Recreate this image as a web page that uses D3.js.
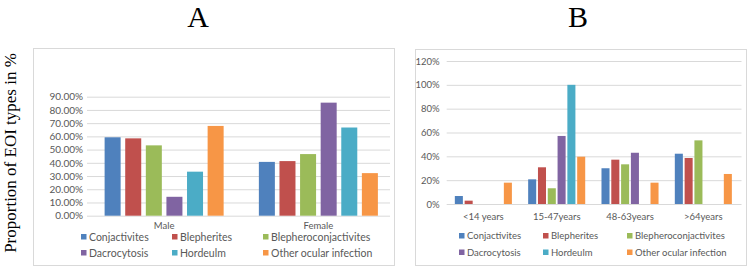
<!DOCTYPE html>
<html>
<head>
<meta charset="utf-8">
<script src="https://cdn.jsdelivr.net/npm/d3@7"></script>
<style>
  body { margin: 0; background: #fff; }
  svg { display: block; }
  .tick text, .cat, .leg { font-family: Lato, "Open Sans", sans-serif; fill: #595959; }
</style>
</head>
<body>
<svg id="chart" width="750" height="266"></svg>
<script>
// series names and colours (Excel 2010 palette)
var seriesNames = ["Conjactivites", "Blepherites", "Blepheroconjactivites",
                   "Dacrocytosis", "Hordeulm", "Other ocular infection"];
var seriesColors = ["#4f81bd", "#c0504d", "#9bbb59", "#8064a2", "#4bacc6", "#f79646"];

// panel A: by sex
var sexCats = ["Male", "Female"];
var sexValues = [
  [59.3, 40.7],   // Conjactivites
  [58.5, 41.3],   // Blepherites
  [53.2, 46.6],   // Blepheroconjactivites
  [14.3, 85.5],   // Dacrocytosis
  [33.3, 66.7],   // Hordeulm
  [67.9, 32.2]    // Other ocular infection
];
var sexTicks = [0, 10, 20, 30, 40, 50, 60, 70, 80, 90];

// panel B: by age group
var ageCats = ["<14 years", "15-47years", "48-63years", ">64years"];
var ageValues = [
  [6.7, 20.7, 30.0, 42.2],
  [2.8, 30.8, 37.2, 38.6],
  [0, 13.2, 33.3, 53.4],
  [0, 57.1, 43.0, 0],
  [0, 100, 0, 0],
  [17.9, 39.7, 17.9, 25.2]
];
var ageTicks = [0, 20, 40, 60, 80, 100, 120];

var svg = d3.select("#chart");

function panel(opt) {
  var g = svg.append("g");

  // outer frame
  g.append("rect")
    .attr("x", opt.box[0] + 0.5).attr("y", opt.box[1] + 0.5)
    .attr("width", opt.box[2] - opt.box[0]).attr("height", opt.box[3] - opt.box[1])
    .attr("fill", "#fff").attr("stroke", "#d9d9d9");

  // big panel letter
  g.append("text")
    .attr("x", opt.titleX).attr("y", 27)
    .attr("text-anchor", "middle")
    .style("font-family", "'Liberation Serif', 'Times New Roman', serif")
    .style("font-size", "30px")
    .text(opt.title);

  var x0 = d3.scaleBand().domain(opt.cats).range(opt.xRange);
  var x1 = d3.scaleBand().domain(d3.range(seriesNames.length))
    .range([0, x0.bandwidth()]).paddingInner(opt.inner).paddingOuter(opt.outer);
  var y = d3.scaleLinear().domain([0, opt.ticks[opt.ticks.length - 1]]).range(opt.yRange);

  // gridlines and tick labels
  var yAxis = d3.axisLeft(y).tickValues(opt.ticks)
    .tickSize(-(opt.gridEnd - opt.xRange[0]))
    .tickPadding(opt.pad)
    .tickFormat(opt.fmt);
  var ax = g.append("g")
    .attr("transform", "translate(" + opt.xRange[0] + ",0)")
    .call(yAxis);
  ax.select(".domain").remove();
  ax.selectAll(".tick line").attr("stroke", "#d9d9d9");
  ax.selectAll(".tick text").style("font-size", opt.tickSize + "px");

  // bars
  seriesNames.forEach(function (name, s) {
    g.selectAll(null)
      .data(opt.values[s])
      .enter().append("rect")
      .attr("x", function (d, i) { return x0(opt.cats[i]) + x1(s); })
      .attr("y", function (d) { return y(d); })
      .attr("width", x1.bandwidth())
      .attr("height", function (d) { return y(0) - y(d); })
      .attr("fill", seriesColors[s]);
  });

  // category labels
  g.selectAll(null)
    .data(opt.cats)
    .enter().append("text")
    .attr("class", "cat")
    .attr("x", function (d) { return x0(d) + x0.bandwidth() / 2; })
    .attr("y", opt.catY)
    .attr("text-anchor", "middle")
    .style("font-size", opt.catSize + "px")
    .text(function (d) { return d; });

  // legend, 3 per row
  seriesNames.forEach(function (name, s) {
    var lx = opt.legX[s % 3], ly = opt.legY[Math.floor(s / 3)];
    g.append("rect")
      .attr("x", lx).attr("y", ly - 3)
      .attr("width", 5.5).attr("height", 5.5)
      .attr("fill", seriesColors[s]);
    g.append("text")
      .attr("class", "leg")
      .attr("x", lx + 8).attr("y", ly)
      .attr("dy", "0.35em")
      .style("font-size", opt.legSize + "px")
      .text(name);
  });
}

panel({
  title: "A", titleX: 198,
  box: [33, 48, 394, 265],
  cats: sexCats, values: sexValues, ticks: sexTicks,
  xRange: [87, 395.5], gridEnd: 390, yRange: [215.7, 96.7],
  inner: 0.223, outer: 0.855,
  fmt: function (d) { return d.toFixed(2) + "%"; },
  pad: 4, tickSize: 10, catY: 228.5, catSize: 9.5,
  legX: [81, 172, 263], legY: [237, 253], legSize: 10.5
});

panel({
  title: "B", titleX: 578,
  box: [415, 49, 746, 265],
  cats: ageCats, values: ageValues, ticks: ageTicks,
  xRange: [446.7, 740], gridEnd: 741.5, yRange: [204, 61],
  inner: 0.18, outer: 0.83,
  fmt: function (d) { return d + "%"; },
  pad: 7, tickSize: 9.5, catY: 219.5, catSize: 9.5,
  legX: [459, 543, 627], legY: [236, 252.5], legSize: 9.5
});

// shared y axis title
svg.append("text")
  .attr("transform", "translate(16,153) rotate(-90)")
  .attr("text-anchor", "middle")
  .style("font-family", "'Liberation Serif', 'Times New Roman', serif")
  .style("font-size", "17px")
  .text("Proportion of  EOI types in %");
</script>
</body>
</html>
